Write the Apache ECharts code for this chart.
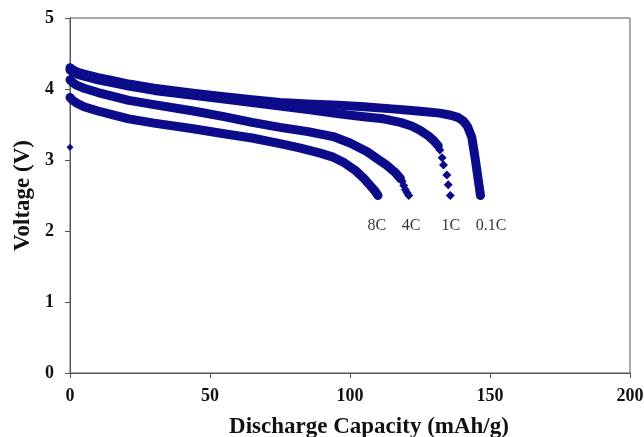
<!DOCTYPE html>
<html>
<head>
<meta charset="utf-8">
<script src="https://cdn.jsdelivr.net/npm/echarts@6/dist/echarts.min.js"></script>
<style>html,body{margin:0;padding:0;background:#fff}#c{width:644px;height:437px}</style>
</head>
<body>
<div id="c"></div>
<script>
// ---- data ----
const x01C = [0,1,2.5,5,10,15,21,30,44,55,65,75,85,96,105,115,121,127,132,136,138.5,140.5,142,143.5,144.6,145.7,146.6];
const v01C = [4.30,4.27,4.24,4.21,4.16,4.12,4.07,4.01,3.94,3.89,3.85,3.81,3.79,3.77,3.75,3.72,3.70,3.68,3.66,3.63,3.60,3.55,3.47,3.32,3.05,2.75,2.50];

const x1C = [0,1,2.5,5,10,15,21,30,44,55,65,75,85,96,105,112,118,122,125,128,130,131.5];
const v1C = [4.27,4.24,4.21,4.18,4.13,4.09,4.04,3.98,3.91,3.86,3.81,3.76,3.71,3.65,3.61,3.58,3.53,3.48,3.42,3.34,3.27,3.20];
const x1Ctail = [132.1,132.9,133.4,134.6,135.1,135.8];
const v1Ctail = [3.14,3.03,2.93,2.79,2.65,2.50];

const x4C = [0,1,2.5,5,10,15,21,30,44,55,65,75,85,94,100,106,110,113,116,118];
const v4C = [4.13,4.09,4.05,4.01,3.95,3.90,3.84,3.78,3.69,3.61,3.53,3.46,3.40,3.33,3.24,3.12,3.01,2.93,2.83,2.74];
const x4Ctail = [118.6,119.2,119.8,120.4,121];
const v4Ctail = [2.70,2.64,2.58,2.54,2.50];

const x8C = [0,1,2.5,5,10,15,21,30,44,55,65,75,82,89,94,98,102,105,107,109,110];
const v8C = [3.88,3.84,3.80,3.75,3.69,3.64,3.58,3.52,3.44,3.37,3.31,3.23,3.17,3.10,3.04,2.96,2.85,2.74,2.65,2.56,2.50];

const xOutlier = [0];
const vOutlier = [3.18];

const rateLabels = ['8C','4C','1C','0.1C'];
const rateLabelX = [109.6,121.8,136,150.4];
const rateLabelY = [2.08,2.08,2.08,2.08];

const xTicks = [0,50,100,150,200];
const yTicks = [0,1,2,3,4,5];
// --------------------------------------

const navy = '#0c0c8a';
const zip = (xs, ys) => xs.map((x, i) => [x, ys[i]]);
const serif = "'Liberation Serif','Times New Roman',serif";

function bandSeries(xs, ys) {
  return {
    type: 'line', data: zip(xs, ys), showSymbol: false, smooth: false,
    lineStyle: { color: navy, width: 9, cap: 'round', join: 'round', opacity: 1 },
    itemStyle: { color: navy }, silent: true
  };
}
function dotSeries(xs, ys, size) {
  return {
    type: 'scatter', data: zip(xs, ys), symbol: 'diamond', symbolSize: size,
    itemStyle: { color: navy, opacity: 1 }, silent: true
  };
}

const chart = echarts.init(document.getElementById('c'));
chart.setOption({
  animation: false,
  backgroundColor: '#fff',
  grid: { left: 70, right: 14, top: 18, bottom: 64, show: true, borderColor: '#555', borderWidth: 1,
    containLabel: false, outerBoundsMode: 'none' },
  xAxis: {
    type: 'value', min: 0, max: 200, interval: 50,
    name: 'Discharge Capacity (mAh/g)', nameLocation: 'middle', nameGap: 43,
    nameTextStyle: { fontFamily: serif, fontWeight: 'bold', fontSize: 23, color: '#111', padding: [0, 0, 0, 38] },
    axisLine: { lineStyle: { color: '#555', width: 1 } },
    axisTick: { show: true, length: 5, inside: false, lineStyle: { color: '#555' } },
    axisLabel: { fontFamily: serif, fontWeight: 'bold', fontSize: 18, color: '#111', margin: 14,
      formatter: v => xTicks.includes(v) ? String(v) : '' },
    splitLine: { show: false }
  },
  yAxis: {
    type: 'value', min: 0, max: 5, interval: 1,
    name: 'Voltage (V)', nameLocation: 'middle', nameGap: 35,
    nameTextStyle: { fontFamily: serif, fontWeight: 'bold', fontSize: 23, color: '#111' },
    axisLine: { show: true, lineStyle: { color: '#555', width: 1 } },
    axisTick: { show: true, length: 5, inside: false, lineStyle: { color: '#555' } },
    axisLabel: { fontFamily: serif, fontWeight: 'bold', fontSize: 18, color: '#111', margin: 16,
      formatter: v => yTicks.includes(v) ? String(v) : '' },
    splitLine: { show: false }
  },
  series: [
    bandSeries(x8C, v8C),
    bandSeries(x4C, v4C),
    dotSeries(x4Ctail, v4Ctail, 9),
    bandSeries(x1C, v1C),
    dotSeries(x1Ctail, v1Ctail, 9),
    bandSeries(x01C, v01C),
    dotSeries(xOutlier, vOutlier, 7),
    {
      type: 'scatter', symbolSize: 1, silent: true,
      itemStyle: { color: 'rgba(0,0,0,0)' },
      data: rateLabels.map((t, i) => ({ name: t, value: [rateLabelX[i], rateLabelY[i]] })),
      label: { show: true, position: 'inside', formatter: p => p.name,
        fontFamily: serif, fontSize: 16, color: '#000', textBorderWidth: 0 }
    }
  ]
});
</script>
</body>
</html>
